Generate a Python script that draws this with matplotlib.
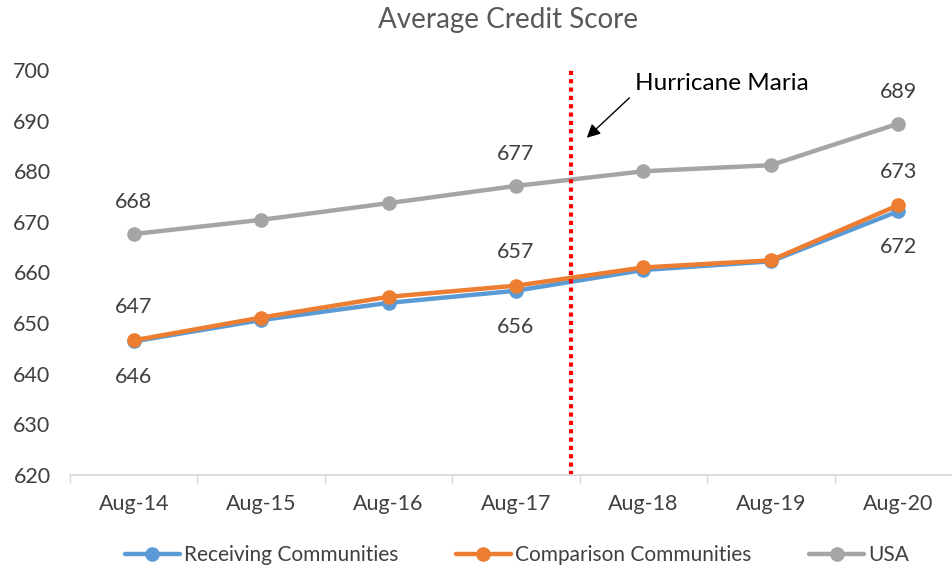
import numpy as np
from matplotlib import pyplot as plt

plt.rcParams['font.family'] = ['Lato', 'DejaVu Sans']

months = ['Aug-14', 'Aug-15', 'Aug-16', 'Aug-17', 'Aug-18', 'Aug-19', 'Aug-20']
receiving = [646.4, 650.6, 654.0, 656.4, 660.5, 662.2, 672.1]
comparison = [646.6, 651.1, 655.2, 657.4, 661.0, 662.4, 673.3]
usa = [667.6, 670.4, 673.7, 677.1, 680.0, 681.2, 689.4]

# which points get a value label, and where
label_idx = [0, 3, 6]
maria_x = 3.43  # between Aug-17 and Aug-18

blue = '#5B9BD5'
orange = '#ED7D31'
gray = '#A5A5A5'
text_col = '#404040'

fig = plt.figure(figsize=(9.52, 5.72), dpi=100)
ax = fig.add_axes([70/952, 1-475/572, 892/952, 405/572])

x = np.arange(len(months))
for vals, col, name in [(receiving, blue, 'Receiving Communities'),
                        (comparison, orange, 'Comparison Communities'),
                        (usa, gray, 'USA')]:
    ax.plot(x, vals, color=col, lw=3.2, marker='o', ms=9.5, label=name,
            solid_capstyle='round', clip_on=False)

for i in label_idx:
    ax.annotate(f'{usa[i]:.0f}', (x[i], usa[i]), xytext=(0, 23), textcoords='offset points',
                ha='center', va='center', fontsize=15.5, color=text_col)
    ax.annotate(f'{comparison[i]:.0f}', (x[i], comparison[i]), xytext=(0, 24), textcoords='offset points',
                ha='center', va='center', fontsize=15.5, color=text_col)
    ax.annotate(f'{receiving[i]:.0f}', (x[i], receiving[i]), xytext=(0, -26), textcoords='offset points',
                ha='center', va='center', fontsize=15.5, color=text_col)

ax.axvline(maria_x, ymin=0, ymax=(700.6-620)/80, color='#FF0000', lw=3,
           linestyle=(0, (1, 1)), clip_on=False)
ax.annotate('', xy=(3.555, 686.6), xytext=(3.89, 694.5),
            arrowprops=dict(arrowstyle='-|>', color='black', lw=1, mutation_scale=20,
                            shrinkA=0, shrinkB=0))
ax.text(3.93, 697.4, 'Hurricane Maria', fontsize=17.5, color='black', ha='left', va='center')

ax.set_xlim(-0.5, len(months) - 0.5)
ax.set_ylim(620, 700)
ax.set_yticks(np.arange(620, 701, 10))
ax.set_xticks(x)
ax.set_xticklabels(months)
ax.set_xticks(np.arange(-0.5, len(months), 1), minor=True)
ax.tick_params(axis='x', which='major', length=0, pad=14, labelsize=15.5, labelcolor=text_col)
ax.tick_params(axis='x', which='minor', length=6, color='#D9D9D9', width=1)
ax.tick_params(axis='y', length=0, pad=14, labelsize=15.5, labelcolor=text_col)
for s in ['top', 'right', 'left']:
    ax.spines[s].set_visible(False)
ax.spines['bottom'].set_color('#D9D9D9')
ax.spines['bottom'].set_linewidth(1.3)

fig.text(508/952, 1-20/572, 'Average Credit Score', ha='center', va='center',
         fontsize=20, color='#595959')

fig.legend(loc='center', bbox_to_anchor=(517/952, 1-555/572), ncol=3, frameon=False,
           fontsize=15, labelcolor=text_col, handlelength=2.6, handletextpad=0.2,
           columnspacing=2.8)

fig.savefig('out.png', dpi=100)
